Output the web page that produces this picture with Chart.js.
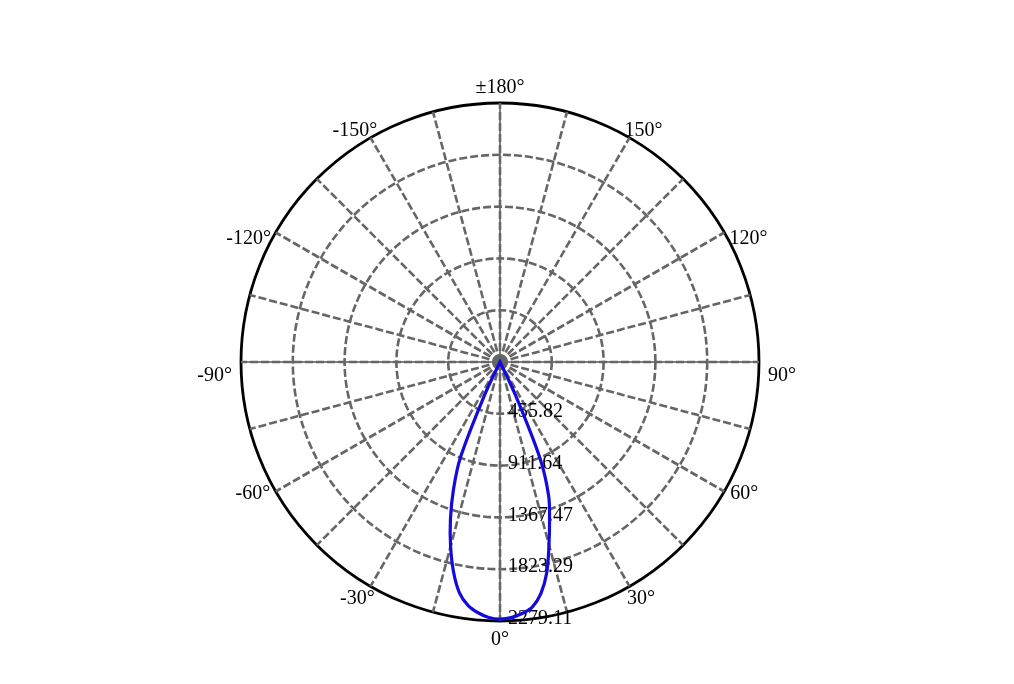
<!DOCTYPE html>
<html>
<head>
<meta charset="utf-8">
<script src="https://cdn.jsdelivr.net/npm/chart.js@4.4.1/dist/chart.umd.min.js"></script>
<style>
  html, body { margin: 0; padding: 0; background: #fff; }
  #wrap { width: 1014px; height: 684px; }
</style>
</head>
<body>
<div id="wrap"><canvas id="grafico"></canvas></div>
<script>
// etiquetas de angulo cada 30°, desde arriba en sentido horario
const angleTickLabels = ['±180°', '150°', '120°', '90°', '60°', '30°', '0°', '-30°', '-60°', '-90°', '-120°', '-150°'];
// anillos radiales (cd)
const radialTicks = [0, 455.82, 911.64, 1367.47, 1823.29, 2279.11];
// angulos del lobulo (grados) e intensidad
const lobeAngles = [-30, -27.5, -25, -22.5, -20, -17.5, -15, -12.5, -10, -7.5, -5, -2.5, 0,
                    2.5, 5, 7.5, 10, 12.5, 15, 17.5, 20, 22.5, 25, 27.5, 30];
const lobeValues = [0, 0, 320, 910, 1200, 1450, 1680, 1890, 2060, 2160, 2215, 2250, 2262,
                    2252, 2222, 2175, 2070, 1900, 1665, 1450, 1250, 930, 320, 0, 0];

const PASO = 2.5; // grados entre etiquetas del radar
const nEtiquetas = 360 / PASO;
const angulos = [];
for (let i = 0; i < nEtiquetas; i++) angulos.push(180 - PASO * i);
const valores = angulos.map(a => {
  const k = lobeAngles.indexOf(a);
  return k >= 0 ? lobeValues[k] : 0;
});

const ultimo = radialTicks.length - 1;
const FUENTE = '20px "Liberation Serif"';

// cruz negra fina debajo de la rejilla
const cruzPlugin = {
  id: 'cruz',
  beforeDraw(chart) {
    const r = chart.scales.r;
    const ctx = chart.ctx;
    const R = r.drawingArea;
    ctx.save();
    ctx.strokeStyle = '#000';
    ctx.lineWidth = 1;
    ctx.beginPath();
    ctx.moveTo(r.xCenter - R, r.yCenter);
    ctx.lineTo(r.xCenter + R, r.yCenter);
    ctx.moveTo(r.xCenter, r.yCenter - R);
    ctx.lineTo(r.xCenter, r.yCenter + R);
    ctx.stroke();
    ctx.restore();
  }
};

// valores de los anillos sobre la direccion 0° (abajo)
const etiquetasRadiales = {
  id: 'etiquetasRadiales',
  beforeDatasetsDraw(chart) {
    const r = chart.scales.r;
    const ctx = chart.ctx;
    ctx.save();
    ctx.font = FUENTE;
    ctx.fillStyle = '#000';
    ctx.textAlign = 'left';
    ctx.textBaseline = 'middle';
    radialTicks.forEach(v => {
      if (!v) return;
      const d = r.getDistanceFromCenterForValue(v);
      ctx.fillText(v.toFixed(2), r.xCenter + 8, r.yCenter + d - 2);
    });
    ctx.restore();
  }
};

// etiquetas de angulo fuera del circulo
const etiquetasAngulo = {
  id: 'etiquetasAngulo',
  afterDraw(chart) {
    const r = chart.scales.r;
    const ctx = chart.ctx;
    ctx.save();
    ctx.font = FUENTE;
    ctx.fillStyle = '#000';
    ctx.textAlign = 'center';
    ctx.textBaseline = 'middle';
    angleTickLabels.forEach((txt, k) => {
      const i = k * 12;
      const p = r.getPointPosition(i, r.drawingArea + 9);
      const a = r.getIndexAngle(i);
      const s = Math.sin(a);
      const c = -Math.cos(a); // coseno medido desde abajo
      const hw = ctx.measureText(txt).width / 2;
      const x = p.x + hw * s;
      const y = p.y + 2 + 8 * Math.pow(c, 5) + (c <= 0.01 ? 12 * s * s : -6 * s * s);
      ctx.fillText(txt, x, y);
    });
    ctx.restore();
  }
};

new Chart(document.getElementById('grafico'), {
  type: 'radar',
  data: {
    labels: angulos.map(String),
    datasets: [{
      data: valores,
      borderColor: 'rgb(20, 10, 220)',
      borderWidth: 3.2,
      fill: false,
      pointRadius: 0,
      tension: 0.35
    }]
  },
  options: {
    responsive: true,
    maintainAspectRatio: false,
    animation: false,
    layout: { padding: { top: 103, bottom: 63, left: 0, right: 13 } },
    plugins: { legend: { display: false }, tooltip: { enabled: false } },
    scales: {
      r: {
        min: 0,
        max: 2279.11,
        startAngle: 0,
        afterBuildTicks: s => { s.ticks = radialTicks.map(v => ({ value: v })); },
        ticks: { display: false },
        grid: {
          circular: true,
          color: c => c.index === ultimo ? '#000' : '#666',
          lineWidth: c => c.index === ultimo ? 2.8 : 2.6
        },
        border: { dash: c => c.index === ultimo ? [] : [8, 3] },
        angleLines: {
          color: '#666',
          lineWidth: c => c.index % 6 === 0 ? 2.6 : 0,
          borderDash: [8, 3]
        },
        pointLabels: { display: false }
      }
    }
  },
  plugins: [cruzPlugin, etiquetasRadiales, etiquetasAngulo]
});
</script>
</body>
</html>
